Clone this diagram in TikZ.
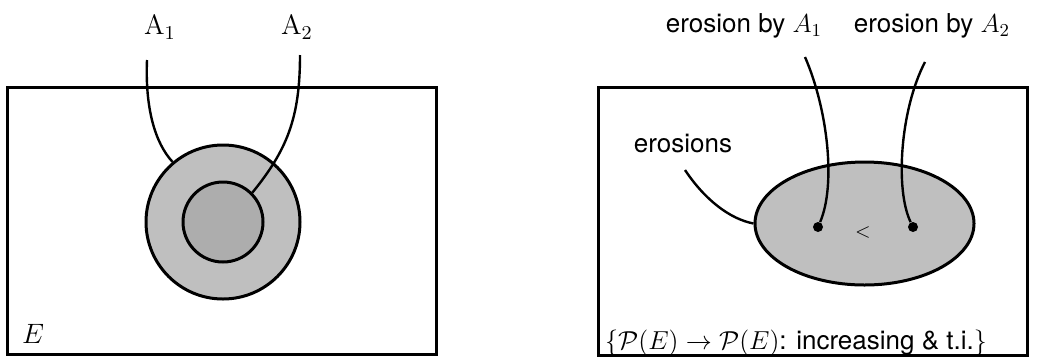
\documentclass[tikz,border=0pt]{standalone}
\usepackage{fix-cm}
\usepackage{fontspec}
\setsansfont{TeX Gyre Heros}
\usetikzlibrary{shapes.geometric}
\begin{document}
\begin{tikzpicture}[x=0.5pt,y=-0.5pt,
  frame/.style={draw,line width=1.5pt,inner sep=0pt},
  disk/.style={circle,draw,line width=1.5pt,inner sep=0pt},
  conn/.style={line width=1.2pt},
  lbl/.style={inner sep=0pt,font=\fontsize{14}{16}\selectfont},
  slbl/.style={inner sep=0pt,font=\fontsize{13}{15}\selectfont\sffamily},
  dotnode/.style={circle,fill=black,inner sep=0pt,minimum size=5pt}]
\useasboundingbox (0,0) rectangle (1038,360);
% left panel
\node[frame,minimum width=214.5pt,minimum height=133.5pt] (boxL) at (221.5,220.5) {};
\node[disk,fill=black!25,minimum size=77pt] (outer) at (223,222) {};
\node[disk,fill=black!32,minimum size=40pt] (inner) at (223,222) {};
\node[lbl] (a1) at (160,27) {$\mathrm{A}_1$};
\node[lbl] (a2) at (297,27) {$\mathrm{A}_2$};
\coordinate (a1s) at (147,60);
\coordinate (a2s) at (300,55);
\draw[conn] (a1s) .. controls (145,108) and (155,143) .. (outer.130);
\draw[conn] (a2s) .. controls (300,118) and (287,150) .. (inner.45);
\node[lbl] (e) at (33,334) {$E$};
% right panel
\node[frame,minimum width=214.5pt,minimum height=134pt] (boxR) at (812.5,221) {};
\node[ellipse,draw,line width=1.5pt,fill=black!25,inner sep=0pt,minimum width=109.5pt,minimum height=61.5pt] (ell) at (864.5,223.5) {};
\node[dotnode] (d1) at (818,227) {};
\node[dotnode] (d2) at (913,227) {};
\node[inner sep=0pt,font=\fontsize{10}{11}\selectfont] (lt) at (863,232) {$<$};
\node[slbl] (l1) at (744,26) {erosion by $A_1$};
\node[slbl] (l2) at (932,26) {erosion by $A_2$};
\node[slbl] (l3) at (683,143) {erosions};
\coordinate (e1s) at (805,57);
\coordinate (e2s) at (925,62);
\coordinate (e3s) at (685,170);
\draw[conn] (e1s) .. controls (828,110) and (836,185) .. (d1);
\draw[conn] (e2s) .. controls (900,110) and (895,190) .. (d2);
\draw[conn] (e3s) .. controls (705,200) and (730,219) .. (ell.west);
\node[slbl] (bot) at (796,343) {$\{\mathcal{P}(E)\rightarrow\mathcal{P}(E)$: increasing \& t.i.$\}$};
\end{tikzpicture}
\end{document}
